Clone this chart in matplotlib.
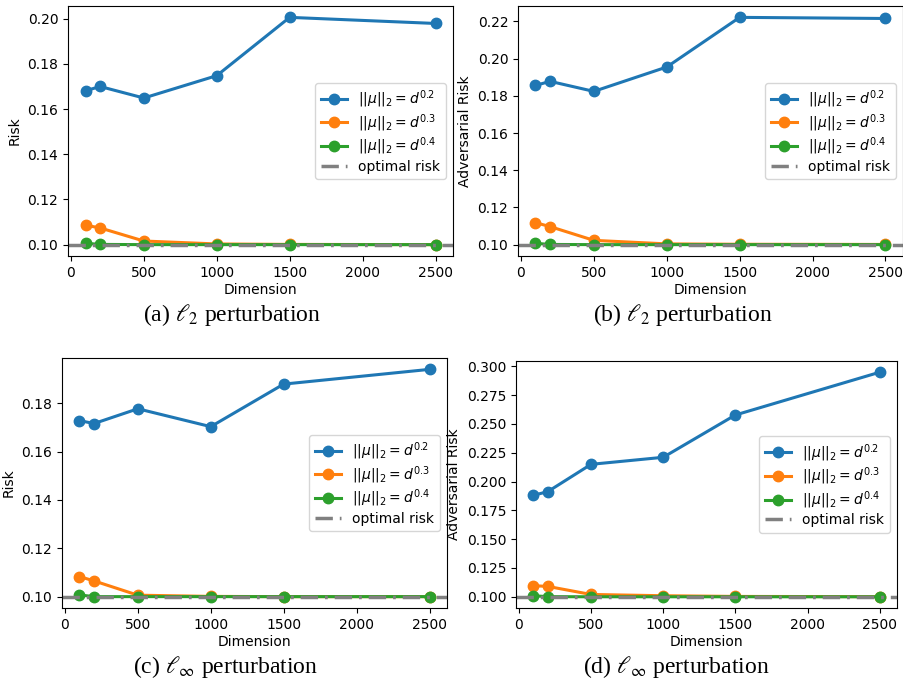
"""
Risk vs dimension under l2 / l_inf perturbations, four panels.
"""

import matplotlib.pyplot as plt

dims = [100, 200, 500, 1000, 1500, 2500]
optimal = 0.1

# (a) l2, standard risk
risk_l2_02 = [0.1681, 0.1700, 0.1649, 0.1748, 0.2006, 0.1979]
risk_l2_03 = [0.1086, 0.1074, 0.1016, 0.1003, 0.1001, 0.1000]
risk_l2_04 = [0.1006, 0.1001, 0.1000, 0.1000, 0.1000, 0.1000]

# (b) l2, adversarial risk
adv_l2_02 = [0.1856, 0.1878, 0.1824, 0.1955, 0.2222, 0.2216]
adv_l2_03 = [0.1118, 0.1097, 0.1023, 0.1004, 0.1002, 0.1001]
adv_l2_04 = [0.1007, 0.1001, 0.1000, 0.1000, 0.1000, 0.1000]

# (c) l_inf, standard risk
risk_linf_02 = [0.1728, 0.1716, 0.1777, 0.1703, 0.1879, 0.1940]
risk_linf_03 = [0.1083, 0.1065, 0.1006, 0.1001, 0.1000, 0.1000]
risk_linf_04 = [0.1007, 0.1000, 0.1000, 0.1000, 0.1000, 0.1000]

# (d) l_inf, adversarial risk
adv_linf_02 = [0.1880, 0.1912, 0.2149, 0.2210, 0.2577, 0.2948]
adv_linf_03 = [0.1096, 0.1090, 0.1020, 0.1009, 0.1003, 0.1001]
adv_linf_04 = [0.1009, 0.1001, 0.1000, 0.1000, 0.1000, 0.1000]

labels = [r"$||\mu||_2 = d^{0.2}$", r"$||\mu||_2 = d^{0.3}$", r"$||\mu||_2 = d^{0.4}$"]
colors = ["#1f77b4", "#ff7f0e", "#2ca02c"]

yticks_l2 = [0.10, 0.12, 0.14, 0.16, 0.18, 0.20]
yticks_adv_l2 = [0.10, 0.12, 0.14, 0.16, 0.18, 0.20, 0.22]
yticks_linf = [0.10, 0.12, 0.14, 0.16, 0.18]
yticks_adv_linf = [0.100, 0.125, 0.150, 0.175, 0.200, 0.225, 0.250, 0.275, 0.300]

panels = [
    ([risk_l2_02, risk_l2_03, risk_l2_04], "Risk", r"(a) $\ell_2$ perturbation",
     yticks_l2, "%.2f", (68, 6, 385, 250), (232, 315)),
    ([adv_l2_02, adv_l2_03, adv_l2_04], "Adversarial Risk", r"(b) $\ell_2$ perturbation",
     yticks_adv_l2, "%.2f", (518, 6, 385, 250), (683, 315)),
    ([risk_linf_02, risk_linf_03, risk_linf_04], "Risk", r"(c) $\ell_\infty$ perturbation",
     yticks_linf, "%.2f", (62, 358, 385, 250), (226, 667)),
    ([adv_linf_02, adv_linf_03, adv_linf_04], "Adversarial Risk", r"(d) $\ell_\infty$ perturbation",
     yticks_adv_linf, "%.3f", (516, 361, 381, 247), (676, 667)),
]

W, H = 904, 679
fig = plt.figure(figsize=(W / 100, H / 100), dpi=100)

for series, ylabel, caption, yt, fmt, (l, t, w, h), (cx, cy) in panels:
    ax = fig.add_axes([l / W, 1 - (t + h) / H, w / W, h / H])
    for vals, lab, c in zip(series, labels, colors):
        ax.plot(dims, vals, marker="o", color=c, lw=2.2, markersize=7.5, label=lab)
    ax.axhline(optimal, color="gray", linestyle=(0, (5, 2, 0.8, 2)), lw=2.5,
               label="optimal risk")
    ax.set_xlabel("Dimension", fontsize=10, labelpad=2)
    ax.set_ylabel(ylabel, fontsize=10)
    ax.set_xticks([0, 500, 1000, 1500, 2000, 2500])
    ax.set_yticks(yt)
    ax.yaxis.set_major_formatter(plt.FormatStrFormatter(fmt))
    ax.set_xlim(-20, 2620)
    ax.tick_params(labelsize=10)
    ax.legend(loc="center right", fontsize=10, handlelength=1.9, labelspacing=0.15)
    fig.text(cx / W, 1 - cy / H, caption, ha="center", va="center", fontsize=17,
             family="Liberation Serif", math_fontfamily="stix")

fig.savefig("out.png", dpi=100)
